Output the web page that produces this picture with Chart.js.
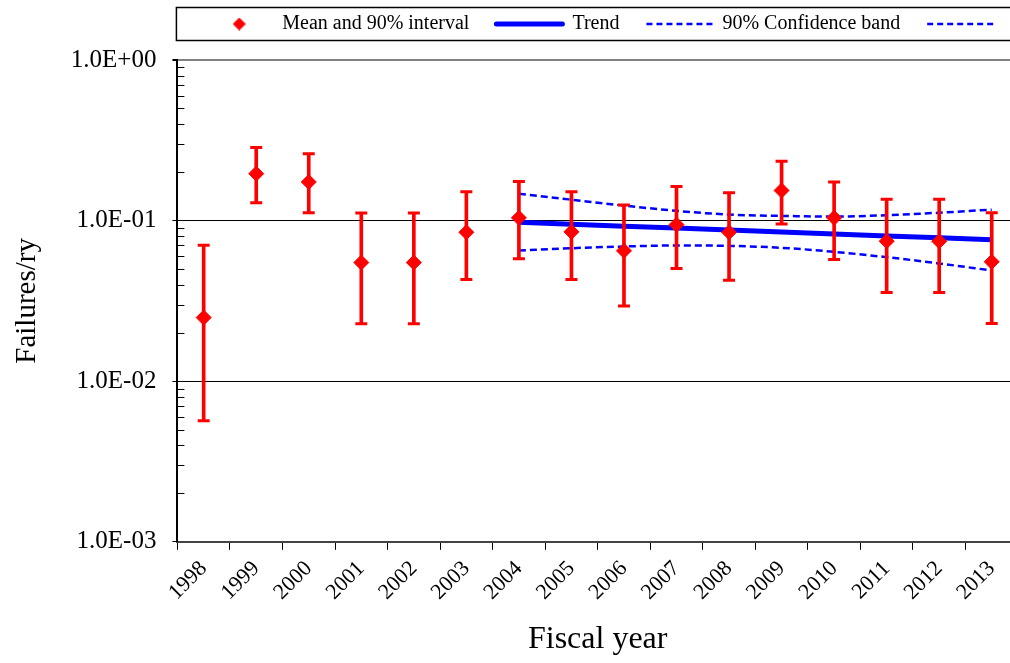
<!DOCTYPE html>
<html>
<head>
<meta charset="utf-8">
<script src="https://cdn.jsdelivr.net/npm/chart.js@4.4.0/dist/chart.umd.min.js"></script>
<style>
  html, body { margin: 0; padding: 0; background: #fff; overflow: hidden; width: 1010px; height: 663px; }
  canvas { display: block; }
</style>
</head>
<body>
<canvas id="c" width="1018" height="663"></canvas>
<script>
// ---- Data ----
const years = ['1998','1999','2000','2001','2002','2003','2004','2005','2006','2007','2008','2009','2010','2011','2012','2013'];
const meanValues  = [0.0249, 0.196, 0.174, 0.0548, 0.0548, 0.0846, 0.104, 0.0851, 0.0648, 0.0944, 0.0846, 0.154, 0.104, 0.0744, 0.0744, 0.0554];
const lowerValues = [0.00567, 0.129, 0.112, 0.0228, 0.0228, 0.0430, 0.0578, 0.0430, 0.0294, 0.0503, 0.0426, 0.0954, 0.0573, 0.0357, 0.0357, 0.0229];
const upperValues = [0.0703, 0.285, 0.261, 0.1116, 0.1116, 0.151, 0.175, 0.151, 0.125, 0.163, 0.149, 0.234, 0.174, 0.136, 0.136, 0.112];
const trendValues = [null, null, null, null, null, null, 0.0976, 0.0949, 0.0923, 0.0898, 0.0873, 0.0849, 0.0826, 0.0803, 0.0781, 0.0759];
const bandUpper   = [null, null, null, null, null, null, 0.147, 0.135, 0.124, 0.115, 0.109, 0.107, 0.106, 0.108, 0.112, 0.117];
const bandLower   = [null, null, null, null, null, null, 0.0651, 0.0673, 0.0690, 0.0700, 0.0696, 0.0677, 0.0639, 0.0592, 0.0541, 0.0489];
const yTickValues = [0.001, 0.01, 0.1, 1];
const yTickLabels = ['1.0E-03', '1.0E-02', '1.0E-01', '1.0E+00'];
const legendLabels = ['Mean and 90% interval', 'Trend', '90% Confidence band', ''];

const RED = '#ff0000';
const BLUE = '#0000ff';
const FONT = "'Liberation Serif', 'Times New Roman', serif";

Chart.defaults.font.family = FONT;
Chart.defaults.color = '#000';

// legend diamond swatch
const diamond = document.createElement('canvas');
diamond.width = 13; diamond.height = 13;
(function(){
  const g = diamond.getContext('2d');
  g.fillStyle = RED;
  g.beginPath();
  g.moveTo(6.5, 0); g.lineTo(13, 6.5); g.lineTo(6.5, 13); g.lineTo(0, 6.5);
  g.closePath(); g.fill();
})();

const LEGEND_CENTER_Y = 24;

const tweaks = {
  id: 'tweaks',
  afterLayout(chart) {
    const lg = chart.legend, ca = chart.chartArea;
    const pad = chart.options.plugins.legend.labels.padding;
    const fs = chart.options.plugins.legend.labels.font.size;
    lg.left = ca.left - 9;
    lg.right = ca.right + 23;
    lg.top = LEGEND_CENTER_Y - pad - fs / 2;
  },
  beforeDatasetsDraw(chart) {
    // minor tick marks on the inside of the y axis
    const y = chart.scales.y, ca = chart.chartArea, ctx = chart.ctx;
    ctx.save();
    ctx.strokeStyle = '#000';
    ctx.lineWidth = 1;
    for (let d = 0; d < yTickValues.length - 1; d++) {
      for (let k = 2; k <= 9; k++) {
        const py = Math.round(y.getPixelForValue(k * yTickValues[d])) + 0.5;
        ctx.beginPath();
        ctx.moveTo(ca.left, py);
        ctx.lineTo(ca.left + 7, py);
        ctx.stroke();
      }
    }
    ctx.restore();
  },
  afterDraw(chart) {
    const ca = chart.chartArea, ctx = chart.ctx;
    ctx.save();
    ctx.strokeStyle = '#000';
    ctx.lineWidth = 1.5;
    ctx.strokeRect(ca.left - 1, LEGEND_CENTER_Y - 16.5, chart.width - ca.left + 5, 33);
    ctx.restore();
  }
};

new Chart(document.getElementById('c'), {
  type: 'bar',
  data: {
    labels: years,
    datasets: [
      {
        type: 'line',
        label: 'Mean',
        data: meanValues,
        showLine: false,
        pointStyle: 'rectRot',
        pointRadius: 7.5,
        pointBackgroundColor: RED,
        pointBorderColor: RED,
        pointBorderWidth: 1,
        order: 0
      },
      {
        type: 'line',
        label: 'Upper',
        data: upperValues,
        showLine: false,
        pointStyle: 'line',
        pointRadius: 6,
        pointBorderColor: RED,
        pointBorderWidth: 3,
        order: 1
      },
      {
        type: 'line',
        label: 'Lower',
        data: lowerValues,
        showLine: false,
        pointStyle: 'line',
        pointRadius: 6,
        pointBorderColor: RED,
        pointBorderWidth: 3,
        order: 1
      },
      {
        type: 'bar',
        label: 'Interval',
        data: years.map((_, i) => [lowerValues[i], upperValues[i]]),
        backgroundColor: RED,
        borderWidth: 0,
        barThickness: 3,
        order: 2
      },
      {
        type: 'line',
        label: 'Trend',
        data: trendValues,
        borderColor: BLUE,
        borderWidth: 5,
        pointRadius: 0,
        fill: false,
        order: 3
      },
      {
        type: 'line',
        label: 'Upper band',
        data: bandUpper,
        borderColor: BLUE,
        borderWidth: 2.5,
        borderDash: [7, 4],
        pointRadius: 0,
        cubicInterpolationMode: 'monotone',
        fill: false,
        order: 4
      },
      {
        type: 'line',
        label: 'Lower band',
        data: bandLower,
        borderColor: BLUE,
        borderWidth: 2.5,
        borderDash: [7, 4],
        pointRadius: 0,
        cubicInterpolationMode: 'monotone',
        fill: false,
        order: 4
      }
    ]
  },
  options: {
    responsive: false,
    maintainAspectRatio: false,
    devicePixelRatio: 1,
    animation: false,
    layout: { autoPadding: false, padding: { top: 3, left: 6, right: 0, bottom: 4 } },
    plugins: {
      tooltip: { enabled: false },
      legend: {
        position: 'top',
        align: 'center',
        maxHeight: 57,
        labels: {
          usePointStyle: true,
          pointStyleWidth: 66,
          padding: 27,
          font: { size: 20, family: FONT },
          color: '#000',
          generateLabels() {
            return [
              { text: legendLabels[0], pointStyle: diamond, fillStyle: RED, strokeStyle: RED, lineWidth: 0, datasetIndex: 0 },
              { text: legendLabels[1], pointStyle: 'line', fillStyle: BLUE, strokeStyle: BLUE, lineWidth: 5, lineCap: 'round', datasetIndex: 4 },
              { text: legendLabels[2], pointStyle: 'line', fillStyle: BLUE, strokeStyle: BLUE, lineWidth: 2.5, lineDash: [6, 4], datasetIndex: 5 },
              { text: legendLabels[3], pointStyle: 'line', fillStyle: BLUE, strokeStyle: BLUE, lineWidth: 2.5, lineDash: [6, 4], datasetIndex: 6 }
            ];
          }
        }
      }
    },
    scales: {
      x: {
        type: 'category',
        offset: true,
        afterFit(scale) { scale.paddingRight = 0; },
        grid: {
          offset: true,
          drawOnChartArea: false,
          drawTicks: true,
          tickLength: 8,
          tickColor: '#000',
          tickWidth: 1
        },
        border: { display: true, color: '#444', width: 2 },
        ticks: {
          minRotation: 45,
          maxRotation: 45,
          padding: 6,
          autoSkip: false,
          font: { size: 22, family: FONT },
          color: '#000'
        },
        title: {
          display: true,
          text: 'Fiscal year',
          font: { size: 32, family: FONT },
          color: '#000',
          padding: { top: 9, bottom: 0 }
        }
      },
      y: {
        type: 'logarithmic',
        min: 0.001,
        max: 1,
        afterBuildTicks(scale) {
          scale.ticks = yTickValues.map(v => ({ value: v }));
        },
        grid: {
          color: (c) => (c.tick && c.tick.value === 1) ? '#808080' : '#000',
          lineWidth: (c) => (c.tick && c.tick.value === 1) ? 2 : 1,
          tickLength: 5,
          tickColor: '#000',
          drawTicks: true
        },
        border: { display: true, color: '#000', width: 2 },
        ticks: {
          padding: 16,
          font: { size: 25, family: FONT },
          color: '#000',
          callback: (v) => {
            const i = yTickValues.findIndex(t => Math.abs(t - v) / t < 1e-6);
            return i >= 0 ? yTickLabels[i] : '';
          }
        },
        title: {
          display: true,
          text: 'Failures/ry',
          font: { size: 29, family: FONT },
          color: '#000',
          padding: { top: 4, bottom: 10 }
        }
      }
    }
  },
  plugins: [tweaks]
});
</script>
</body>
</html>
